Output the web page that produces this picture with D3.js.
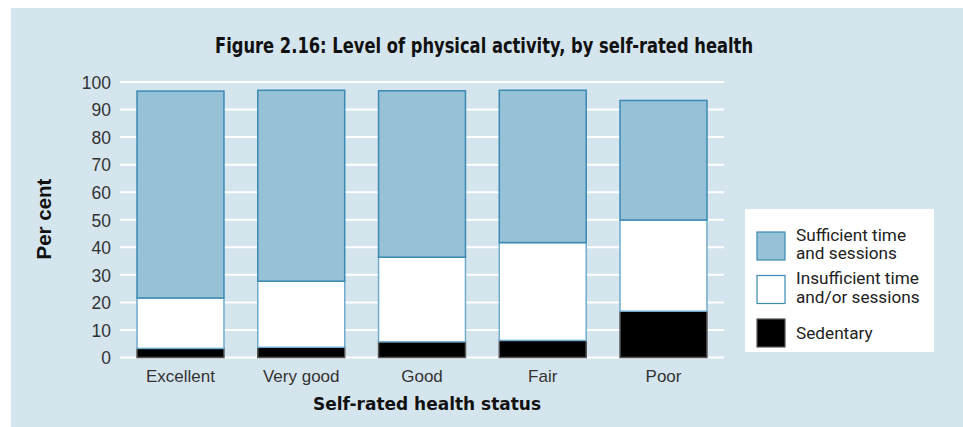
<!DOCTYPE html>
<html><head><meta charset="utf-8">
<script src="https://cdn.jsdelivr.net/npm/d3@7"></script>
<style>html,body{margin:0;padding:0;background:#fff;}svg{display:block;}</style>
</head><body>
<svg id="chart" width="963" height="427"></svg>
<script>
const categories = ["Excellent", "Very good", "Good", "Fair", "Poor"];
const sedentary = [3.3, 3.7, 5.7, 6.2, 16.8];
const insufficient = [18.3, 24.0, 30.7, 35.5, 33.1];
const sufficient = [75.1, 69.3, 60.4, 55.3, 43.4];
const yTicks = [0, 10, 20, 30, 40, 50, 60, 70, 80, 90, 100];
const seriesNames = ["Sedentary", "Insufficient", "Sufficient"];
const legendLabels = [["Sufficient time", "and sessions"], ["Insufficient time", "and/or sessions"], ["Sedentary"]];

const fills = {Sedentary: "#000000", Insufficient: "#ffffff", Sufficient: "#96c1d6"};
const strokes = {Sedentary: "#555555", Insufficient: "#6fabcc", Sufficient: "#3a8ab3"};
const condensed = "'Liberation Sans Narrow', 'DejaVu Sans Condensed', 'Roboto Condensed', 'Liberation Sans', sans-serif";

const svg = d3.select("#chart");
svg.append("rect").attr("x", 11).attr("y", 8).attr("width", 952).attr("height", 419).attr("fill", "#d5e5ee");

const y = d3.scaleLinear().domain([0, 100]).range([357.5, 82]);
const x = d3.scaleBand().domain(categories).range([120, 724]).paddingInner(0.28).paddingOuter(0.141);

// gridlines
svg.append("g").selectAll("line").data(yTicks).join("line")
  .attr("x1", 120).attr("x2", 724)
  .attr("y1", d => y(d)).attr("y2", d => y(d))
  .attr("stroke", "#ffffff").attr("stroke-width", 2);

// y axis labels
const yAxis = d3.axisLeft(y).tickValues(yTicks).tickSize(0).tickPadding(0);
const ya = svg.append("g").attr("transform", "translate(111,0)").call(yAxis);
ya.select(".domain").remove();
ya.selectAll("text").attr("font-family", "Liberation Sans").attr("font-size", 17.5).attr("fill", "#333").attr("dy", "0.36em");

// stacked data
const table = categories.map((c, i) => ({cat: c, Sedentary: sedentary[i], Insufficient: insufficient[i], Sufficient: sufficient[i]}));
const stack = d3.stack().keys(seriesNames)(table);

svg.append("g").selectAll("g").data(stack).join("g")
  .attr("fill", d => fills[d.key]).attr("stroke", d => strokes[d.key]).attr("stroke-width", 1.5)
  .selectAll("rect").data(d => d).join("rect")
  .attr("x", d => x(d.data.cat)).attr("width", x.bandwidth())
  .attr("y", d => y(d[1])).attr("height", d => y(d[0]) - y(d[1]));

// x axis labels
const xAxis = d3.axisBottom(x).tickSize(0).tickPadding(0);
const xa = svg.append("g").attr("transform", "translate(0,369.5)").call(xAxis);
xa.select(".domain").remove();
xa.selectAll("text").attr("font-family", "Liberation Sans").attr("font-size", 17).attr("fill", "#333").attr("dy", "0.71em");

// title
svg.append("text").attr("x", 215).attr("y", 53)
  .attr("font-family", condensed).attr("font-weight", "bold").attr("font-size", 20.5).attr("fill", "#111")
  .attr("textLength", 538).attr("lengthAdjust", "spacingAndGlyphs")
  .text("Figure 2.16: Level of physical activity, by self-rated health");

// x title
svg.append("text").attr("x", 313).attr("y", 410)
  .attr("font-family", condensed).attr("font-weight", "bold").attr("font-size", 18.5).attr("fill", "#111")
  .attr("textLength", 228).attr("lengthAdjust", "spacingAndGlyphs")
  .text("Self-rated health status");

// y title
svg.append("text").attr("transform", "translate(51,219) rotate(-90)").attr("text-anchor", "middle")
  .attr("font-family", "Liberation Sans").attr("font-weight", "bold").attr("font-size", 20.5).attr("fill", "#111")
  .text("Per cent");

// legend
const lg = svg.append("g");
lg.append("rect").attr("x", 745).attr("y", 209).attr("width", 189).attr("height", 143).attr("fill", "#ffffff");
const legendKeys = ["Sufficient", "Insufficient", "Sedentary"];
const lgY = d3.scalePoint().domain(legendKeys).range([232, 319]);
legendKeys.forEach((k, i) => {
  lg.append("rect").attr("x", 757).attr("y", lgY(k)).attr("width", 28).attr("height", 28)
    .attr("fill", fills[k]).attr("stroke", k === "Sedentary" ? "#555" : "#3a8ab3").attr("stroke-width", 1.2);
  const lines = legendLabels[i];
  const t = lg.append("text").attr("font-family", "Roboto").attr("font-size", 17.2).attr("fill", "#222");
  const base = lines.length === 2 ? lgY(k) + 8.5 : lgY(k) + 19.5;
  lines.forEach((ln, j) => {
    t.append("tspan").attr("x", 796).attr("y", base + j * 18.5).text(ln);
  });
});
</script>
</body></html>
